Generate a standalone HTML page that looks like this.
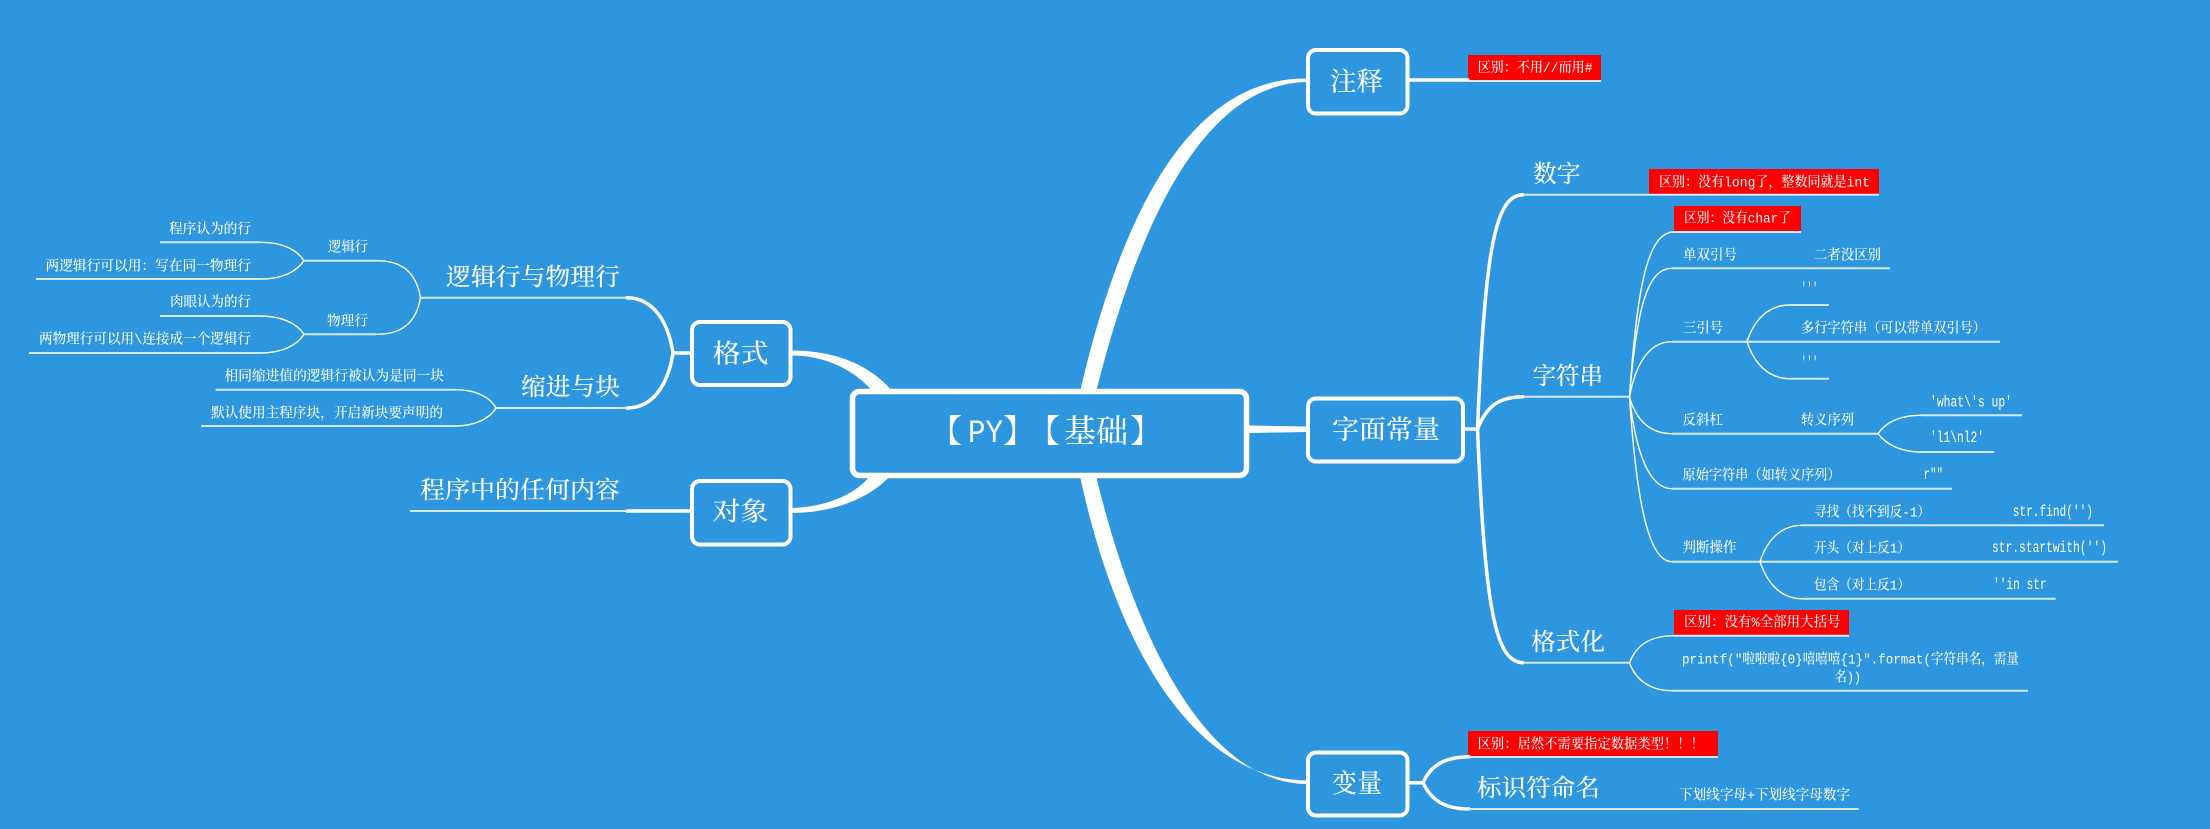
<!DOCTYPE html>
<html><head><meta charset="utf-8"><style>
html,body{margin:0;padding:0;background:#2e96df}
svg{display:block}
text{fill:#fff;font-family:"Liberation Mono","Noto Serif CJK SC","WenQuanYi Zen Hei",serif;dominant-baseline:central;font-weight:500;transform:translateY(3.5px)}
.s{font-size:14px}.m{font-size:24px}.l{font-size:26px}.r{font-size:32px}
.s text{transform:translateY(2.5px)}
.s text.c{font-size:15.5px;transform:translateY(1px)}
.t{fill:none;stroke:#fff;stroke-width:1.4}
.k{fill:none;stroke:#fff;stroke-width:3.5;stroke-linecap:round}
.p{fill:none;stroke:#d4e9f8;stroke-width:2}
.b{fill:#2e96df;stroke:#fff;stroke-width:4}
</style></head><body>
<svg width="2210" height="829" viewBox="0 0 2210 829" xmlns="http://www.w3.org/2000/svg">
<rect width="2210" height="829" fill="#2e96df"/>

<!-- main tapered curves -->
<g fill="#fff">
<path d="M1080,392 C1115,240 1179,78 1306,78.5 L1306,82 C1196,85 1134,242 1096,392 Z"/>
<path d="M1080,476 C1115,640 1190,778 1306,780.5 L1306,784 C1206,782 1136,640 1096,476 Z"/>
<path d="M792,350.5 C830,350.5 868,362 893,392 L873,392 C855,370 825,355.5 792,355.5 Z"/>
<path d="M792,508 C825,507 855,495 870,476 L890,476 C868,500 830,513 792,513 Z"/>
<path d="M1249,425.5 L1307,426.5 L1307,432 L1249,433 Z"/>
</g>

<!-- red labels -->
<g fill="#ff0000">
<rect x="1468" y="55" width="133" height="26"/>
<rect x="1649" y="169" width="230" height="26"/>
<rect x="1674" y="206" width="127" height="26"/>
<rect x="1674" y="610" width="175" height="26"/>
<rect x="1468" y="731" width="250" height="26"/>
</g>

<!-- heavy branches -->
<path class="k" d="M1409,80 H1468"/>
<path class="k" d="M1465,429 H1477.5"/>
<path class="k" d="M1477.5,429 C1485,250 1495,195 1523,194.7"/>
<path class="k" d="M1477.5,429 C1487,405 1500,397 1523,396.7"/>
<path class="k" d="M1477.5,429 C1485,608 1495,662 1523,662.7"/>
<path class="k" d="M1409,782.7 H1423"/>
<path class="k" d="M1423,782.7 C1431,765 1445,757 1469,756.7"/>
<path class="k" d="M1423,782.7 C1431,800 1445,809 1469,809"/>
<path class="k" d="M690,353 H673"/>
<path class="k" d="M673,353 C668,320 652,298 627,297.7"/>
<path class="k" d="M673,353 C668,386 652,408 627,408"/>
<path class="k" d="M690,511 H627"/>

<!-- pale lines -->
<g class="p">
<path d="M1468,81 H1601"/>
<path d="M1523,194.7 H1879"/>
<path d="M1523,396.7 H1629.5"/>
<path d="M1523,662.7 H1629.5"/>
<path d="M1469,809 H1858.7"/>
<path d="M421,297.7 H627"/>
<path d="M496,408 H627"/>
<path d="M410,511 H627"/>
<path d="M1674,232 H1801"/>
<path d="M1672,268.3 H1890"/>
<path d="M1672,341.7 H2000"/>
<path d="M1790,305 H1829"/>
<path d="M1790,378.7 H1829"/>
<path d="M1672,433.7 H1878"/>
<path d="M1921,415.3 H2022"/>
<path d="M1921,452 H1994"/>
<path d="M1672,488.7 H1952"/>
<path d="M1672,561.7 H2118"/>
<path d="M1802,525.3 H2104"/>
<path d="M1802,598.7 H2055.7"/>
<path d="M1674,635.7 H1849"/>
<path d="M1672,690.7 H2028"/>
<path d="M1468,757 H1718"/>
<path d="M160,242.3 H261"/>
<path d="M36,279 H261"/>
<path d="M304,260.7 H376"/>
<path d="M160,316 H260"/>
<path d="M29,353 H260"/>
<path d="M304,334.3 H376"/>
<path d="M215.6,389.7 H455"/>
<path d="M201,426 H455"/>
</g>

<!-- thin curves -->
<g class="t">
<path d="M1629.5,397 C1637,285 1648,232 1674,232"/>
<path d="M1629.5,397 C1637,305 1648,268.3 1672,268.3"/>
<path d="M1629.5,397 C1636,362 1650,341.7 1672,341.7"/>
<path d="M1629.5,397 C1636,420 1650,433.7 1672,433.7"/>
<path d="M1629.5,397 C1636,455 1650,488.7 1672,488.7"/>
<path d="M1629.5,397 C1637,510 1650,561.7 1672,561.7"/>
<path d="M1629.5,663 C1636,645 1650,635.7 1674,635.7"/>
<path d="M1629.5,663 C1636,680 1650,690.7 1672,690.7"/>
<path d="M1747,341.7 C1754,320 1768,305 1790,305"/>
<path d="M1747,341.7 C1754,363 1768,378.7 1790,378.7"/>
<path d="M1878,433.7 C1885,423 1899,415.3 1921,415.3"/>
<path d="M1878,433.7 C1885,443 1899,452 1921,452"/>
<path d="M1760,561.7 C1767,540 1781,525.3 1802,525.3"/>
<path d="M1760,561.7 C1767,583 1781,598.7 1802,598.7"/>
<path d="M304,260.7 C297,250 283,242.3 261,242.3"/>
<path d="M304,260.7 C297,271 283,279 261,279"/>
<path d="M304,334.3 C297,324 283,316 260,316"/>
<path d="M304,334.3 C297,345 283,353 260,353"/>
<path d="M420.5,297.7 C416,272 402,260.7 376,260.7"/>
<path d="M420.5,297.7 C416,323 402,334.3 376,334.3"/>
<path d="M496,408 C490,397 476,389.7 455,389.7"/>
<path d="M496,408 C490,418 476,426 455,426"/>
</g>

<!-- nodes -->
<rect class="b" x="1308" y="50" width="99.5" height="63.5" rx="8"/>
<rect class="b" x="1308" y="398.5" width="155" height="63" rx="8"/>
<rect class="b" x="1308" y="752.5" width="99.5" height="63" rx="8"/>
<rect class="b" x="692" y="322" width="98.5" height="63" rx="8"/>
<rect class="b" x="692" y="481" width="98.5" height="63.5" rx="8"/>
<rect x="852.5" y="391.5" width="394" height="84" rx="7" fill="#2e96df" stroke="#fff" stroke-width="5.5"/>

<!-- node text -->
<text class="r" x="930" y="430">【</text>
<text class="r" x="968" y="430" textLength="35" lengthAdjust="spacingAndGlyphs">PY</text>
<text class="r" x="1003" y="430">】</text>
<text class="r" x="1028" y="430">【</text>
<text class="r" x="1064" y="430" textLength="64" lengthAdjust="spacingAndGlyphs">基础</text>
<text class="r" x="1130" y="430">】</text>
<text class="l" x="1330" y="80" textLength="53" lengthAdjust="spacingAndGlyphs">注释</text>
<text class="l" x="1332" y="428" textLength="108" lengthAdjust="spacingAndGlyphs">字面常量</text>
<text class="l" x="1332" y="782" textLength="50" lengthAdjust="spacingAndGlyphs">变量</text>
<text class="l" x="712.5" y="352" textLength="56" lengthAdjust="spacingAndGlyphs">格式</text>
<text class="l" x="712.5" y="510" textLength="56" lengthAdjust="spacingAndGlyphs">对象</text>

<!-- medium text -->
<text class="m" x="1533" y="173" textLength="47.6" lengthAdjust="spacingAndGlyphs">数字</text>
<text class="m" x="1532.6" y="375" textLength="70.4" lengthAdjust="spacingAndGlyphs">字符串</text>
<text class="m" x="1531" y="641" textLength="74" lengthAdjust="spacingAndGlyphs">格式化</text>
<text class="m" x="1477" y="787" textLength="123" lengthAdjust="spacingAndGlyphs">标识符命名</text>
<text class="m" x="446" y="276" textLength="174" lengthAdjust="spacingAndGlyphs">逻辑行与物理行</text>
<text class="m" x="521" y="386" textLength="99" lengthAdjust="spacingAndGlyphs">缩进与块</text>
<text class="m" x="420" y="489" textLength="200" lengthAdjust="spacingAndGlyphs">程序中的任何内容</text>

<!-- small text: left -->
<g class="s">
<text x="169" y="228" textLength="82" lengthAdjust="spacingAndGlyphs">程序认为的行</text>
<text x="45.5" y="265" textLength="205.5" lengthAdjust="spacingAndGlyphs">两逻辑行可以用：写在同一物理行</text>
<text x="328" y="246" textLength="40" lengthAdjust="spacingAndGlyphs">逻辑行</text>
<text x="170" y="301" textLength="81" lengthAdjust="spacingAndGlyphs">肉眼认为的行</text>
<text x="39" y="338" textLength="212" lengthAdjust="spacingAndGlyphs">两物理行可以用\连接成一个逻辑行</text>
<text x="327" y="320" textLength="41" lengthAdjust="spacingAndGlyphs">物理行</text>
<text x="224.5" y="375" textLength="219.5" lengthAdjust="spacingAndGlyphs">相同缩进值的逻辑行被认为是同一块</text>
<text x="211" y="412" textLength="232" lengthAdjust="spacingAndGlyphs">默认使用主程序块，开启新块要声明的</text>

<!-- small text: right -->
<text x="1477.6" y="66.7" textLength="115" lengthAdjust="spacingAndGlyphs">区别：不用//而用#</text>
<text x="1659" y="181" textLength="211" lengthAdjust="spacingAndGlyphs">区别：没有long了，整数同就是int</text>
<text x="1684" y="217" textLength="107" lengthAdjust="spacingAndGlyphs">区别：没有char了</text>
<text x="1683" y="254" textLength="54" lengthAdjust="spacingAndGlyphs">单双引号</text>
<text x="1814" y="254" textLength="67" lengthAdjust="spacingAndGlyphs">二者没区别</text>
<text class="c" x="1801" y="288" textLength="17" lengthAdjust="spacingAndGlyphs">'''</text>
<text x="1683" y="327" textLength="40" lengthAdjust="spacingAndGlyphs">三引号</text>
<text x="1801" y="327" textLength="185" lengthAdjust="spacingAndGlyphs">多行字符串（可以带单双引号）</text>
<text class="c" x="1801" y="362" textLength="17" lengthAdjust="spacingAndGlyphs">'''</text>
<text class="c" x="1930" y="401.7" textLength="82" lengthAdjust="spacingAndGlyphs">'what\'s up'</text>
<text class="c" x="1930" y="437" textLength="54" lengthAdjust="spacingAndGlyphs">'l1\nl2'</text>
<text x="1682.5" y="419" textLength="40.5" lengthAdjust="spacingAndGlyphs">反斜杠</text>
<text x="1801" y="419" textLength="53" lengthAdjust="spacingAndGlyphs">转义序列</text>
<text x="1682.5" y="474" textLength="158" lengthAdjust="spacingAndGlyphs">原始字符串（如转义序列）</text>
<text class="c" x="1923.5" y="474" textLength="19.5" lengthAdjust="spacingAndGlyphs">r""</text>
<text x="1814" y="511" textLength="116" lengthAdjust="spacingAndGlyphs">寻找（找不到反-1）</text>
<text class="c" x="2012.7" y="511" textLength="80.3" lengthAdjust="spacingAndGlyphs">str.find('')</text>
<text x="1814" y="547" textLength="96" lengthAdjust="spacingAndGlyphs">开头（对上反1）</text>
<text class="c" x="1992" y="547" textLength="115" lengthAdjust="spacingAndGlyphs">str.startwith('')</text>
<text x="1682.5" y="546.7" textLength="54" lengthAdjust="spacingAndGlyphs">判断操作</text>
<text x="1814" y="584" textLength="96" lengthAdjust="spacingAndGlyphs">包含（对上反1）</text>
<text class="c" x="1993" y="584" textLength="53.6" lengthAdjust="spacingAndGlyphs">''in str</text>
<text x="1684" y="621" textLength="156.6" lengthAdjust="spacingAndGlyphs">区别：没有%全部用大括号</text>
<text x="1682" y="658" textLength="337" lengthAdjust="spacingAndGlyphs">printf("啦啦啦{0}嘻嘻嘻{1}".format(字符串名，需量</text>
<text x="1835" y="676" textLength="26" lengthAdjust="spacingAndGlyphs">名))</text>
<text x="1477.6" y="743" textLength="226.4" lengthAdjust="spacingAndGlyphs">区别：居然不需要指定数据类型！！！</text>
<text x="1679" y="794" textLength="171" lengthAdjust="spacingAndGlyphs">下划线字母+下划线字母数字</text>
</g>
</svg>
</body></html>
